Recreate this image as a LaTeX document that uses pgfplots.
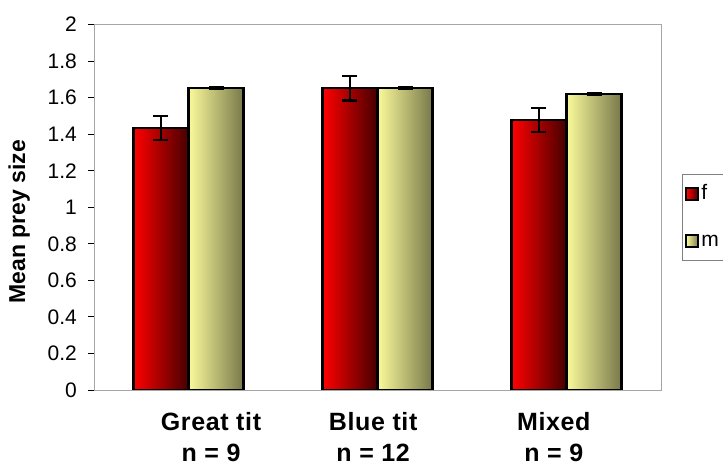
\documentclass[border=0pt]{standalone}
\usepackage{pgfplots}
\pgfplotsset{compat=1.18}
\usepackage{fontspec}
\setmainfont{Liberation Sans}
\newfontfamily\catfont[LetterSpace=2.5]{Liberation Sans}
\definecolor{fL}{RGB}{255,0,0}
\definecolor{fR}{RGB}{70,0,0}
\definecolor{mL}{RGB}{250,250,155}
\definecolor{mR}{RGB}{120,120,75}
\pgfplotsset{
  fbar/.style={ybar, bar width=55pt, bar shift=-27.5pt, left color=fL, right color=fR, draw=none},
  mbar/.style={ybar, bar width=55pt, bar shift=27.5pt, left color=mL, right color=mR, draw=none},
}
\begin{document}
\begin{tikzpicture}
\begin{axis}[
  scale only axis,
  width=567pt, height=365.5pt,
  xmin=-0.5, xmax=2.5,
  ymin=0, ymax=2,
  ytick={0,0.2,0.4,0.6,0.8,1,1.2,1.4,1.6,1.8,2},
  yticklabels={0,0.2,0.4,0.6,0.8,1,1.2,1.4,1.6,1.8,2},
  xtick={0.119,0.977,1.933},
  xticklabels={Great tit\\n = 9, Blue tit\\n = 12, Mixed\\n = 9},
  xticklabel style={font=\catfont\bfseries\fontsize{25}{31}\selectfont, align=center, anchor=north, inner sep=0pt, yshift=-16pt},
  major x tick style={draw=none},
  ytick pos=left,
  tick align=outside,
  major tick length=6pt,
  y tick style={black, line width=0.8pt},
  yticklabel style={font=\fontsize{21}{21}\selectfont, inner sep=0pt, xshift=-11pt},
  /pgf/number format/assume math mode=true,
  axis line style={draw=gray!70, line width=0.8pt},
  ylabel={\bfseries Mean prey size},
  ylabel style={font=\bfseries\fontsize{23}{23}\selectfont, at={(axis description cs:-0.132,0.46)}, anchor=center},
  legend style={at={(1.037,0.592)}, anchor=north west, draw=gray, line width=0.8pt,
    font=\fontsize{21}{21}\selectfont, inner xsep=3pt, inner ysep=8pt, row sep=24pt,
    nodes={inner sep=2pt, text height=15pt, text depth=4pt}},
  legend cell align=left,
  legend image code/.code={\path[#1] (0pt,-6pt) rectangle (12pt,6pt); \draw[black, line width=2pt] (0pt,-6pt) rectangle (12pt,6pt);},
]
\addplot[fbar] coordinates {(0,1.435)};
\addlegendentry{f}
\addplot[mbar] coordinates {(0,1.651)};
\addlegendentry{m}
\addplot[fbar, forget plot] coordinates {(1,1.651)};
\addplot[fbar, forget plot] coordinates {(2,1.477)};
\addplot[mbar, forget plot] coordinates {(1,1.651)};
\addplot[mbar, forget plot] coordinates {(2,1.619)};
% bar outlines
\addplot[ybar, bar width=55pt, bar shift=-27.5pt, fill=none, draw=black, line width=2.2pt, forget plot]
  coordinates {(0,1.435) (1,1.651) (2,1.477)};
\addplot[ybar, bar width=55pt, bar shift=27.5pt, fill=none, draw=black, line width=2.2pt, forget plot]
  coordinates {(0,1.651) (1,1.651) (2,1.619)};
% error bars (low / high ends)
\addplot[forget plot, black, line width=2.2pt, unbounded coords=jump,
  mark=-, mark size=7.5pt, mark options={line width=2.2pt, solid}]
  coordinates {
    (-0.1456,1.369) (-0.1456,1.501) (-0.1456,nan)
    (0.8544,1.584) (0.8544,1.718) (0.8544,nan)
    (1.8544,1.411) (1.8544,1.543) (1.8544,nan)
    (0.1456,1.645) (0.1456,1.657) (0.1456,nan)
    (1.1456,1.645) (1.1456,1.657) (1.1456,nan)
    (2.1456,1.614) (2.1456,1.624)
  };
\end{axis}
\pgfresetboundingbox
\useasboundingbox (-94pt,-75pt) rectangle (629pt,390pt);
\end{tikzpicture}
\end{document}
